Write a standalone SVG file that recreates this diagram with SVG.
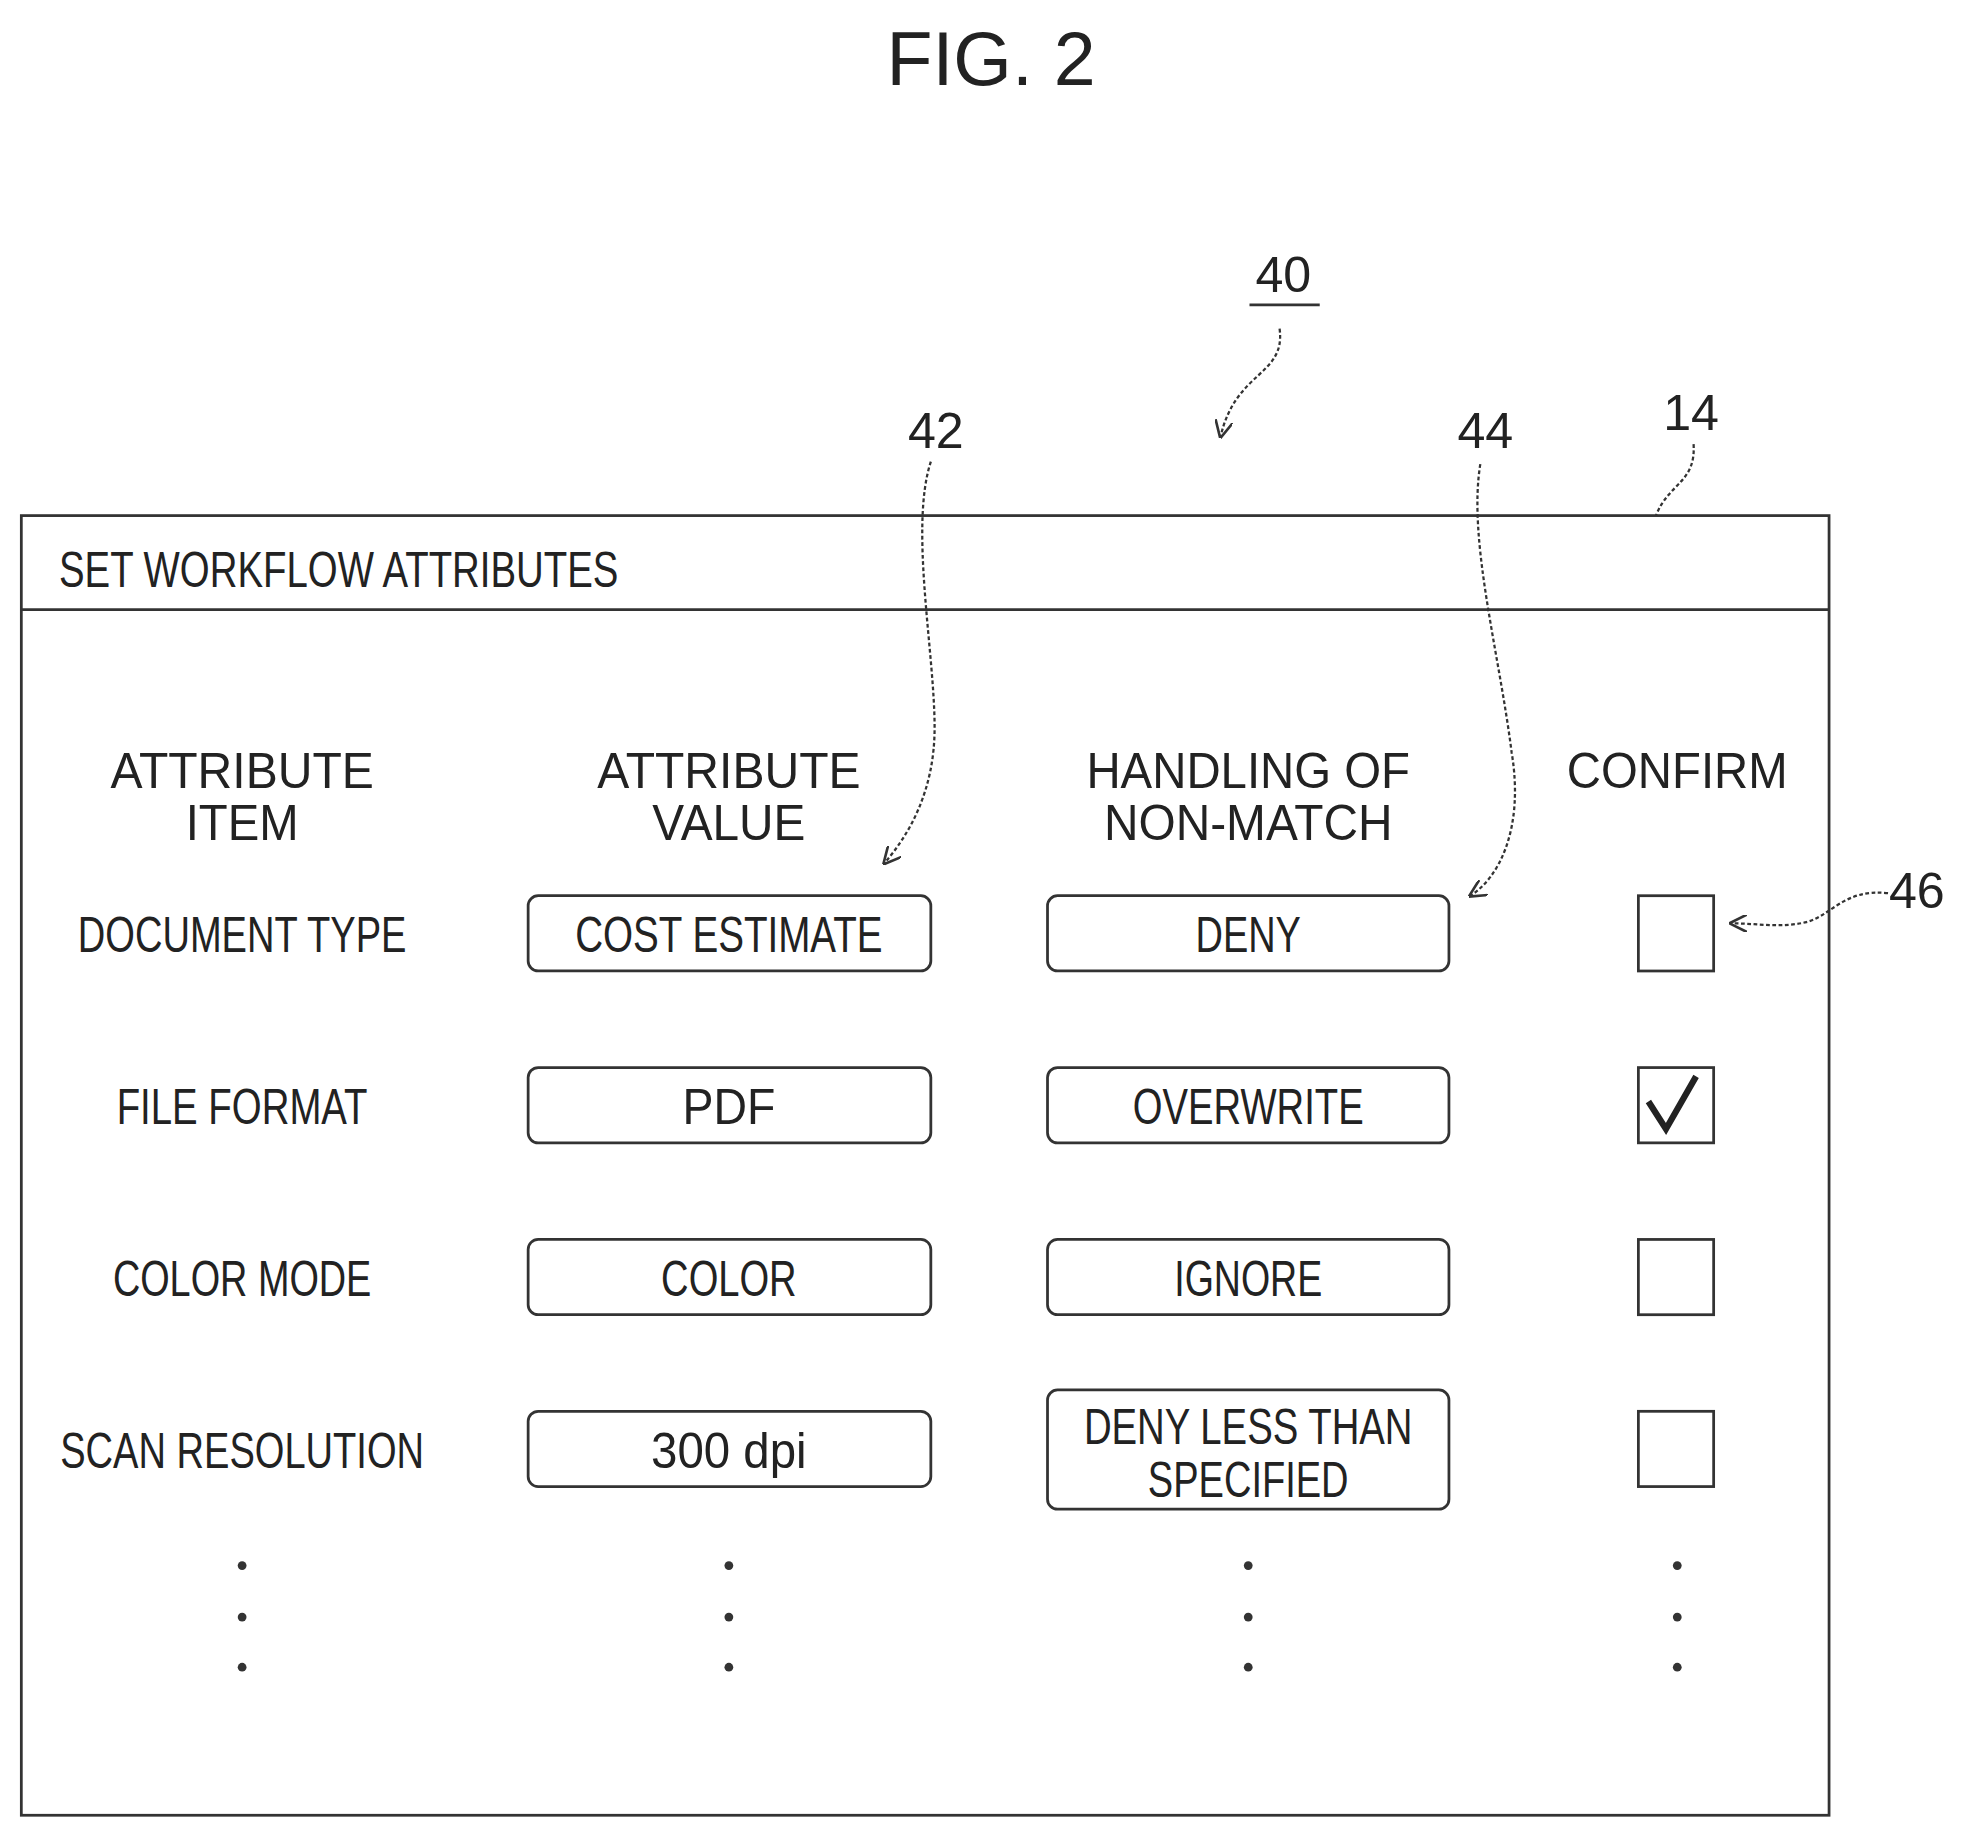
<svg xmlns="http://www.w3.org/2000/svg" width="1966" height="1837" viewBox="0 0 1966 1837">
<style>
text{font-family:"Liberation Sans",Arial,sans-serif;fill:#222;text-anchor:middle}
.t{font-size:40px}
.b{fill:none;stroke:#333;stroke-width:2.2}
.l{fill:none;stroke:#333;stroke-width:1.8;stroke-dasharray:3 2}
.d{fill:#333}
</style>
<defs><marker id="a" viewBox="0 0 10 10" refX="9" refY="5" markerWidth="14" markerHeight="14" orient="auto" markerUnits="userSpaceOnUse"><path d="M0,0 L10,5 L0,10" fill="none" stroke="#333" stroke-width="1.5"/></marker></defs>
<rect width="1966" height="1837" fill="#fff"/>
<g transform="scale(1.2545)">
<text x="790" y="68" style="font-size:60px">FIG. 2</text>
<g id="screen">
<rect class="b" x="17" y="411" width="1441" height="1036"/>
<line class="b" x1="17" y1="486" x2="1458" y2="486"/>
<text x="47" y="468" class="t" style="text-anchor:start" textLength="446" lengthAdjust="spacingAndGlyphs">SET WORKFLOW ATTRIBUTES</text>
</g>
<g id="headers" class="t">
<text x="193" y="628" textLength="210" lengthAdjust="spacingAndGlyphs">ATTRIBUTE</text>
<text x="193" y="670" textLength="90" lengthAdjust="spacingAndGlyphs">ITEM</text>
<text x="581" y="628" textLength="210" lengthAdjust="spacingAndGlyphs">ATTRIBUTE</text>
<text x="581" y="670" textLength="122" lengthAdjust="spacingAndGlyphs">VALUE</text>
<text x="995" y="628" textLength="258" lengthAdjust="spacingAndGlyphs">HANDLING OF</text>
<text x="995" y="670" textLength="230" lengthAdjust="spacingAndGlyphs">NON-MATCH</text>
<text x="1337" y="628" textLength="176" lengthAdjust="spacingAndGlyphs">CONFIRM</text>
</g>
<g id="row1" class="t">
<text x="193" y="759" textLength="262" lengthAdjust="spacingAndGlyphs">DOCUMENT TYPE</text>
<rect class="b" x="421" y="714" width="321" height="60" rx="8"/>
<text x="581" y="759" textLength="245" lengthAdjust="spacingAndGlyphs">COST ESTIMATE</text>
<rect class="b" x="835" y="714" width="320" height="60" rx="8"/>
<text x="995" y="759" textLength="84" lengthAdjust="spacingAndGlyphs">DENY</text>
<rect class="b" x="1306" y="714" width="60" height="60"/>
</g>
<g id="row2" class="t">
<text x="193" y="896" textLength="200" lengthAdjust="spacingAndGlyphs">FILE FORMAT</text>
<rect class="b" x="421" y="851" width="321" height="60" rx="8"/>
<text x="581" y="896" textLength="74" lengthAdjust="spacingAndGlyphs">PDF</text>
<rect class="b" x="835" y="851" width="320" height="60" rx="8"/>
<text x="995" y="896" textLength="184" lengthAdjust="spacingAndGlyphs">OVERWRITE</text>
<rect class="b" x="1306" y="851" width="60" height="60"/>
<path d="M1314,878 L1328,900 L1352,858" fill="none" stroke="#222" stroke-width="5"/>
</g>
<g id="row3" class="t">
<text x="193" y="1033" textLength="206" lengthAdjust="spacingAndGlyphs">COLOR MODE</text>
<rect class="b" x="421" y="988" width="321" height="60" rx="8"/>
<text x="581" y="1033" textLength="108" lengthAdjust="spacingAndGlyphs">COLOR</text>
<rect class="b" x="835" y="988" width="320" height="60" rx="8"/>
<text x="995" y="1033" textLength="118" lengthAdjust="spacingAndGlyphs">IGNORE</text>
<rect class="b" x="1306" y="988" width="60" height="60"/>
</g>
<g id="row4" class="t">
<text x="193" y="1170" textLength="290" lengthAdjust="spacingAndGlyphs">SCAN RESOLUTION</text>
<rect class="b" x="421" y="1125" width="321" height="60" rx="8"/>
<text x="581" y="1170" textLength="124" lengthAdjust="spacingAndGlyphs">300 dpi</text>
<rect class="b" x="835" y="1108" width="320" height="95" rx="8"/>
<text x="995" y="1151" textLength="262" lengthAdjust="spacingAndGlyphs">DENY LESS THAN</text>
<text x="995" y="1193" textLength="160" lengthAdjust="spacingAndGlyphs">SPECIFIED</text>
<rect class="b" x="1306" y="1125" width="60" height="60"/>
</g>
<g id="dots" class="d">
<circle cx="193" cy="1248" r="3.5"/><circle cx="193" cy="1289" r="3.5"/><circle cx="193" cy="1329" r="3.5"/>
<circle cx="581" cy="1248" r="3.5"/><circle cx="581" cy="1289" r="3.5"/><circle cx="581" cy="1329" r="3.5"/>
<circle cx="995" cy="1248" r="3.5"/><circle cx="995" cy="1289" r="3.5"/><circle cx="995" cy="1329" r="3.5"/>
<circle cx="1337" cy="1248" r="3.5"/><circle cx="1337" cy="1289" r="3.5"/><circle cx="1337" cy="1329" r="3.5"/>
</g>
<g id="refs" class="t">
<text x="1023" y="233">40</text>
<line class="b" x1="996" y1="243" x2="1052" y2="243"/>
<text x="746" y="357">42</text>
<text x="1184" y="357">44</text>
<text x="1348" y="343">14</text>
<text x="1528" y="724">46</text>
</g>
<g id="connectors">
<path class="l" d="M1020,262 C1025,300 985,295 973,348" marker-end="url(#a)"/>
<path class="l" d="M742,368 C725,420 745,520 745,580 C745,630 725,665 705,688" marker-end="url(#a)"/>
<path class="l" d="M1180,370 C1170,430 1195,520 1205,600 C1215,660 1195,700 1172,714" marker-end="url(#a)"/>
<path class="l" d="M1350,354 C1352,385 1330,385 1320,411"/>
<path class="l" d="M1505,712 C1470,708 1460,730 1440,735 C1420,740 1400,736 1380,736" marker-end="url(#a)"/>
</g>
</g>
</svg>
